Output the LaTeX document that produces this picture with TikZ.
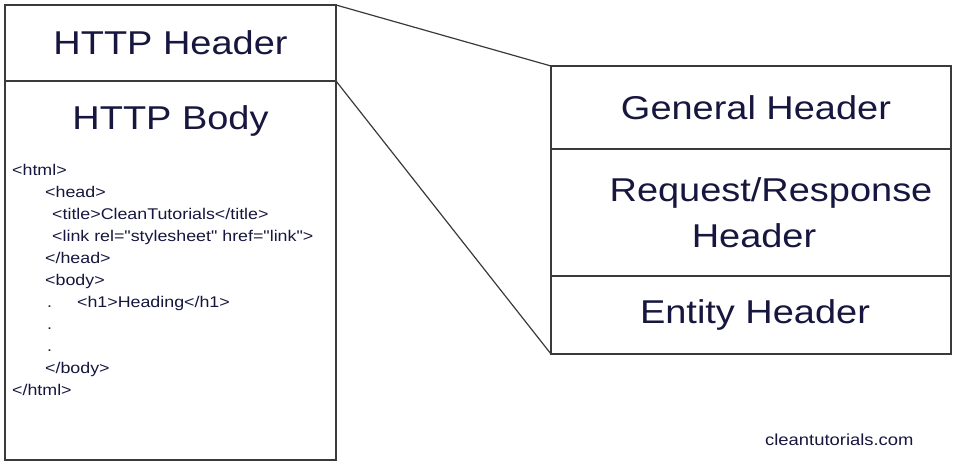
\documentclass[tikz,border=0pt]{standalone}
\usepackage{fontspec}
\usepackage{xcolor}
\usepackage{tikz}
\usetikzlibrary{positioning}
\newfontfamily\diagfont[FakeStretch=1.15]{Liberation Sans}
\definecolor{HTTPNavy}{HTML}{16163E}
\definecolor{HTTPLine}{HTML}{3A3A3A}

\begin{document}
\begin{tikzpicture}[x=1pt,y=-1pt,
        part/.style={draw=HTTPLine,line width=1.2pt,outer sep=0pt,
                     minimum width=331pt,text=HTTPNavy,
                     font={\diagfont\fontsize{33}{36}\selectfont}},
        field/.style={draw=HTTPLine,line width=1.2pt,outer sep=0pt,
                      minimum width=400pt,align=center,text=HTTPNavy,
                      font={\diagfont\fontsize{33}{46}\selectfont}},
        link/.style={HTTPLine,line width=1.2pt}]
        \useasboundingbox (0,0) rectangle (958,463);
        \node[part,minimum height=76pt] (header) at (170.5,43)
          {\raisebox{-4pt}{HTTP Header}};
        \node[part,minimum height=379pt,below=0pt of header] (body) {};
        \node[text=HTTPNavy,inner sep=0pt,below=24pt of body.north,
              font={\diagfont\fontsize{33}{36}\selectfont}] (bodytitle)
          {HTTP Body};
        \node[anchor=north west,inner sep=0pt,align=left,text=HTTPNavy,
              font={\diagfont\fontsize{15.5}{22}\selectfont}] (code) at (12,164)
          {<html>\\
           \hspace*{33pt}<head>\\
           \hspace*{40pt}<title>CleanTutorials</title>\\
           \hspace*{40pt}<link rel="stylesheet" href="link">\\
           \hspace*{33pt}</head>\\
           \hspace*{33pt}<body>\\
           \hspace*{35pt}.\hspace*{25pt}<h1>Heading</h1>\\
           \hspace*{35pt}.\\
           \hspace*{35pt}.\\
           \hspace*{33pt}</body>\\
           </html>};
        \node[field,minimum height=83pt] (general) at (751,107.5)
          {\hspace*{10pt}General Header};
        \node[field,minimum height=127pt,below=0pt of general] (reqresp)
          {\raisebox{-5pt}{\hspace*{40pt}Request/Response}\\
           \raisebox{-5pt}{\hspace*{6pt}Header}};
        \node[field,minimum height=78pt,below=0pt of reqresp] (entity)
          {\hspace*{8pt}Entity Header};
        \node[anchor=base west,inner sep=0pt,text=HTTPNavy,
              font={\diagfont\fontsize{16}{18}\selectfont}] (site) at (765,445)
          {cleantutorials.com};
        \draw[link] (header.north east)--(general.north west);
        \draw[link] (header.south east)--(entity.south west);
      \end{tikzpicture}
\end{document}
